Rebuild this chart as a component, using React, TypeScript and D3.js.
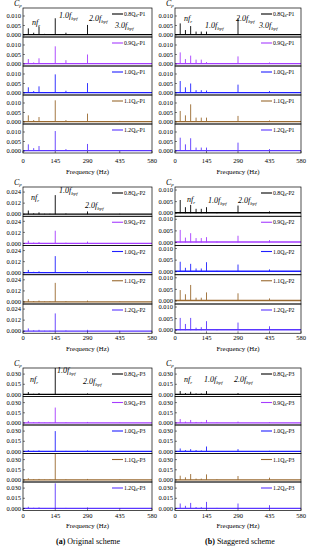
import React from 'react';
import * as d3 from 'd3';

// Harmonic frequencies (Hz) where the spectra show peaks
const FREQS = [24, 48, 72, 97, 121, 145, 193, 290, 435];
const X_TICKS = [0, 145, 290, 435, 580];
const FLOWS = ['0.8', '0.9', '1.0', '1.1', '1.2'];
const COLORS = ['#000000', '#a63cff', '#1f1fff', '#9a6a30', '#5a36ff'];

// (a) Original scheme, amplitudes C_p at FREQS
const origP1 = [
  [0.0035, 0.0012, 0.0044, 0.0006, 0.0005, 0.0088, 0.0012, 0.0053, 0.0005],
  [0.0026, 0.0008, 0.003, 0.0005, 0.0005, 0.0093, 0.002, 0.005, 0.0005],
  [0.003, 0.001, 0.0035, 0.0005, 0.0005, 0.0098, 0.0012, 0.0052, 0.0005],
  [0.0035, 0.001, 0.0026, 0.0005, 0.0005, 0.0114, 0.001, 0.0044, 0.0006],
  [0.0035, 0.0015, 0.0026, 0.0005, 0.0005, 0.0105, 0.001, 0.0037, 0.0005],
];
const origP2 = [
  [0.004, 0.001, 0.002, 0.0005, 0.0005, 0.0207, 0.0008, 0.003, 0.0005],
  [0.003, 0.001, 0.0015, 0.0005, 0.0005, 0.0138, 0.0008, 0.002, 0.0005],
  [0.003, 0.001, 0.0015, 0.0005, 0.0005, 0.018, 0.0008, 0.0015, 0.0005],
  [0.003, 0.001, 0.0015, 0.0005, 0.0005, 0.0207, 0.0008, 0.0015, 0.0005],
  [0.003, 0.001, 0.0015, 0.0005, 0.0005, 0.0193, 0.0008, 0.0015, 0.0005],
];
const origP3 = [
  [0.0035, 0.001, 0.002, 0.0005, 0.0005, 0.04, 0.0008, 0.0015, 0.0005],
  [0.003, 0.001, 0.0015, 0.0005, 0.0005, 0.0227, 0.0008, 0.0015, 0.0005],
  [0.002, 0.001, 0.0015, 0.0005, 0.0005, 0.03, 0.0008, 0.0015, 0.0005],
  [0.0025, 0.001, 0.0015, 0.0005, 0.0005, 0.0387, 0.0008, 0.0015, 0.0005],
  [0.0025, 0.001, 0.0015, 0.0005, 0.0005, 0.037, 0.0008, 0.0015, 0.0005],
];

// (b) Staggered scheme
const stagP1 = [
  [0.0061, 0.0026, 0.0047, 0.0018, 0.0018, 0.0018, 0.0005, 0.0088, 0.0004],
  [0.0061, 0.0026, 0.0044, 0.0023, 0.0023, 0.001, 0.0005, 0.004, 0.0008],
  [0.0063, 0.003, 0.005, 0.0015, 0.0015, 0.0013, 0.0005, 0.0044, 0.001],
  [0.0058, 0.0035, 0.0093, 0.0023, 0.0023, 0.0023, 0.0005, 0.0032, 0.0008],
  [0.007, 0.0035, 0.0067, 0.0018, 0.0018, 0.0018, 0.0005, 0.0044, 0.001],
];
const stagP2 = [
  [0.0057, 0.0026, 0.0036, 0.0019, 0.0019, 0.0026, 0.0004, 0.0033, 0.0008],
  [0.0054, 0.0021, 0.004, 0.0019, 0.0019, 0.0023, 0.0004, 0.0029, 0.001],
  [0.0043, 0.0017, 0.0034, 0.0014, 0.0014, 0.0041, 0.0004, 0.0031, 0.001],
  [0.0047, 0.0029, 0.0069, 0.0014, 0.0014, 0.0037, 0.0004, 0.0033, 0.0011],
  [0.0053, 0.0027, 0.0053, 0.0011, 0.0013, 0.0039, 0.0004, 0.0033, 0.0017],
];
const stagP3 = [
  [0.005, 0.002, 0.004, 0.0015, 0.0015, 0.005, 0.0005, 0.002, 0.0008],
  [0.0058, 0.002, 0.0044, 0.0015, 0.0015, 0.0044, 0.0005, 0.002, 0.001],
  [0.0044, 0.002, 0.0034, 0.002, 0.0015, 0.0073, 0.0005, 0.0034, 0.001],
  [0.0063, 0.0039, 0.0087, 0.002, 0.002, 0.0082, 0.0008, 0.0058, 0.0034],
  [0.0073, 0.0039, 0.0082, 0.002, 0.002, 0.0097, 0.0008, 0.0073, 0.0048],
];

const FONT = '"Liberation Serif", "DejaVu Serif", serif';

type Note = {main: string; sub: string; x: number; y: number};

interface BlockProps {
  x0: number;
  x1: number;
  top: number;
  pitch: number;
  domain: [number, number];
  ticks: number[];
  point: string;
  series: number[][];
  notes: Note[];
  tickY: number;
  labelY: number;
}

const Block: React.FC<BlockProps> = ({
  x0, x1, top, pitch, domain, ticks, point, series, notes, tickY, labelY,
}) => {
  const x = d3.scaleLinear().domain([0, 580]).range([x0, x1]);
  const fmt = d3.format('.3f');
  const bottom = top + pitch * series.length;
  return (
    <g fontFamily={FONT} fill="#000">
      {series.map((vals, i) => {
        const pTop = top + i * pitch;
        const y = d3.scaleLinear().domain(domain).range([pTop + pitch, pTop]).clamp(true);
        const path = d3.path();
        vals.forEach((v, j) => {
          path.moveTo(x(FREQS[j]), y(0));
          path.lineTo(x(FREQS[j]), y(v));
        });
        return (
          <g key={i}>
            <line x1={x0} x2={x1} y1={y(0.0002)} y2={y(0.0002)} stroke={COLORS[i]} strokeWidth={1.3} />
            <path d={path.toString()} stroke={COLORS[i]} strokeWidth={0.9} fill="none" />
            <rect x={x0} y={pTop} width={x1 - x0} height={pitch} fill="none" stroke="#000" strokeWidth={0.7} />
            {ticks.map((t) => (
              <g key={t}>
                <line x1={x0} x2={x0 + 2} y1={y(t)} y2={y(t)} stroke="#000" strokeWidth={0.5} />
                <text x={x0 - 2} y={y(t) + 2.2} fontSize={6.5} textAnchor="end" fill="#000">{fmt(t)}</text>
              </g>
            ))}
            <line x1={x1 - 40} x2={x1 - 29} y1={pTop + 6} y2={pTop + 6} stroke={COLORS[i]} strokeWidth={1.1} />
            <text x={x1 - 28} y={pTop + 8} fontSize={5.8} fill="#000">
              {FLOWS[i]}Q<tspan fontSize={4} dy={1.2}>d</tspan>
              <tspan dy={-1.2}>-{point}</tspan>
            </text>
          </g>
        );
      })}
      {X_TICKS.map((t) => (
        <g key={t}>
          <line x1={x(t)} x2={x(t)} y1={bottom} y2={bottom - 2} stroke="#000" strokeWidth={0.5} />
          <text x={x(t)} y={tickY} fontSize={6.5} textAnchor="middle" fill="#000">{t}</text>
        </g>
      ))}
      <text x={(x0 + x1) / 2} y={labelY} fontSize={6.8} textAnchor="middle" fill="#000">Frequency (Hz)</text>
      <text x={x0 - 9} y={top - 2.5} fontSize={8} fontStyle="italic" fill="#000">
        C<tspan fontSize={5} dy={1.5}>p</tspan>
      </text>
      {notes.map((n, k) => (
        <text key={k} x={n.x} y={n.y} fontSize={8} fontStyle="italic" fill="#000">
          {n.main}<tspan fontSize={5} dy={1.5}>{n.sub}</tspan>
        </text>
      ))}
    </g>
  );
};

const L = {x0: 23, x1: 152};
const R = {x0: 175, x1: 301};

export default function App() {
  return (
    <svg width={312} height={550} style={{position: 'absolute', left: 0, top: 0, background: '#fff'}}>
      {/* Group P1 */}
      <Block {...L} top={8} pitch={29} domain={[-0.00105, 0.0142]} ticks={[0, 0.005, 0.01]}
        point="P1" series={origP1} tickY={163} labelY={174}
        notes={[
          {main: 'nf', sub: 'r', x: 32, y: 25},
          {main: '1.0f', sub: 'bpf', x: 59, y: 18},
          {main: '2.0f', sub: 'bpf', x: 89, y: 21},
          {main: '3.0f', sub: 'bpf', x: 115, y: 28},
        ]} />
      <Block {...R} top={8} pitch={29} domain={[-0.00105, 0.0142]} ticks={[0, 0.005, 0.01]}
        point="P1" series={stagP1} tickY={163} labelY={174}
        notes={[
          {main: 'nf', sub: 'r', x: 184, y: 21},
          {main: '1.0f', sub: 'bpf', x: 205, y: 28},
          {main: '2.0f', sub: 'bpf', x: 236, y: 21},
          {main: '3.0f', sub: 'bpf', x: 259, y: 28},
        ]} />
      {/* Group P2 */}
      <Block {...L} top={187} pitch={29.25} domain={[-0.0022, 0.0295]} ticks={[0, 0.012, 0.024]}
        point="P2" series={origP2} tickY={340} labelY={351}
        notes={[
          {main: 'nf', sub: 'r', x: 31, y: 200},
          {main: '1.0f', sub: 'bpf', x: 59, y: 193},
          {main: '2.0f', sub: 'bpf', x: 85, y: 208},
        ]} />
      <Block {...R} top={187} pitch={29.25} domain={[-0.0013, 0.0113]} ticks={[0, 0.005, 0.01]}
        point="P2" series={stagP2} tickY={340} labelY={351}
        notes={[
          {main: 'nf', sub: 'r', x: 187, y: 202},
          {main: '1.0f', sub: 'bpf', x: 208, y: 203},
          {main: '2.0f', sub: 'bpf', x: 238, y: 203},
        ]} />
      {/* Group P3 */}
      <Block {...L} top={368} pitch={28.5} domain={[-0.003, 0.039]} ticks={[0, 0.015, 0.03]}
        point="P3" series={origP3} tickY={518} labelY={528}
        notes={[
          {main: 'nf', sub: 'r', x: 30, y: 382},
          {main: '1.0f', sub: 'bpf', x: 57, y: 373},
          {main: '2.0f', sub: 'bpf', x: 83, y: 384},
        ]} />
      <Block {...R} top={368} pitch={28.5} domain={[-0.003, 0.039]} ticks={[0, 0.015, 0.03]}
        point="P3" series={stagP3} tickY={518} labelY={528}
        notes={[
          {main: 'nf', sub: 'r', x: 184, y: 382},
          {main: '1.0f', sub: 'bpf', x: 204, y: 382},
          {main: '2.0f', sub: 'bpf', x: 234, y: 382},
        ]} />
      <text x={88} y={544} fontSize={8} textAnchor="middle" fontFamily={FONT} fill="#000">
        <tspan fontWeight="bold">(a)</tspan> Original scheme
      </text>
      <text x={240} y={544} fontSize={8} textAnchor="middle" fontFamily={FONT} fill="#000">
        <tspan fontWeight="bold">(b)</tspan> Staggered scheme
      </text>
    </svg>
  );
}
